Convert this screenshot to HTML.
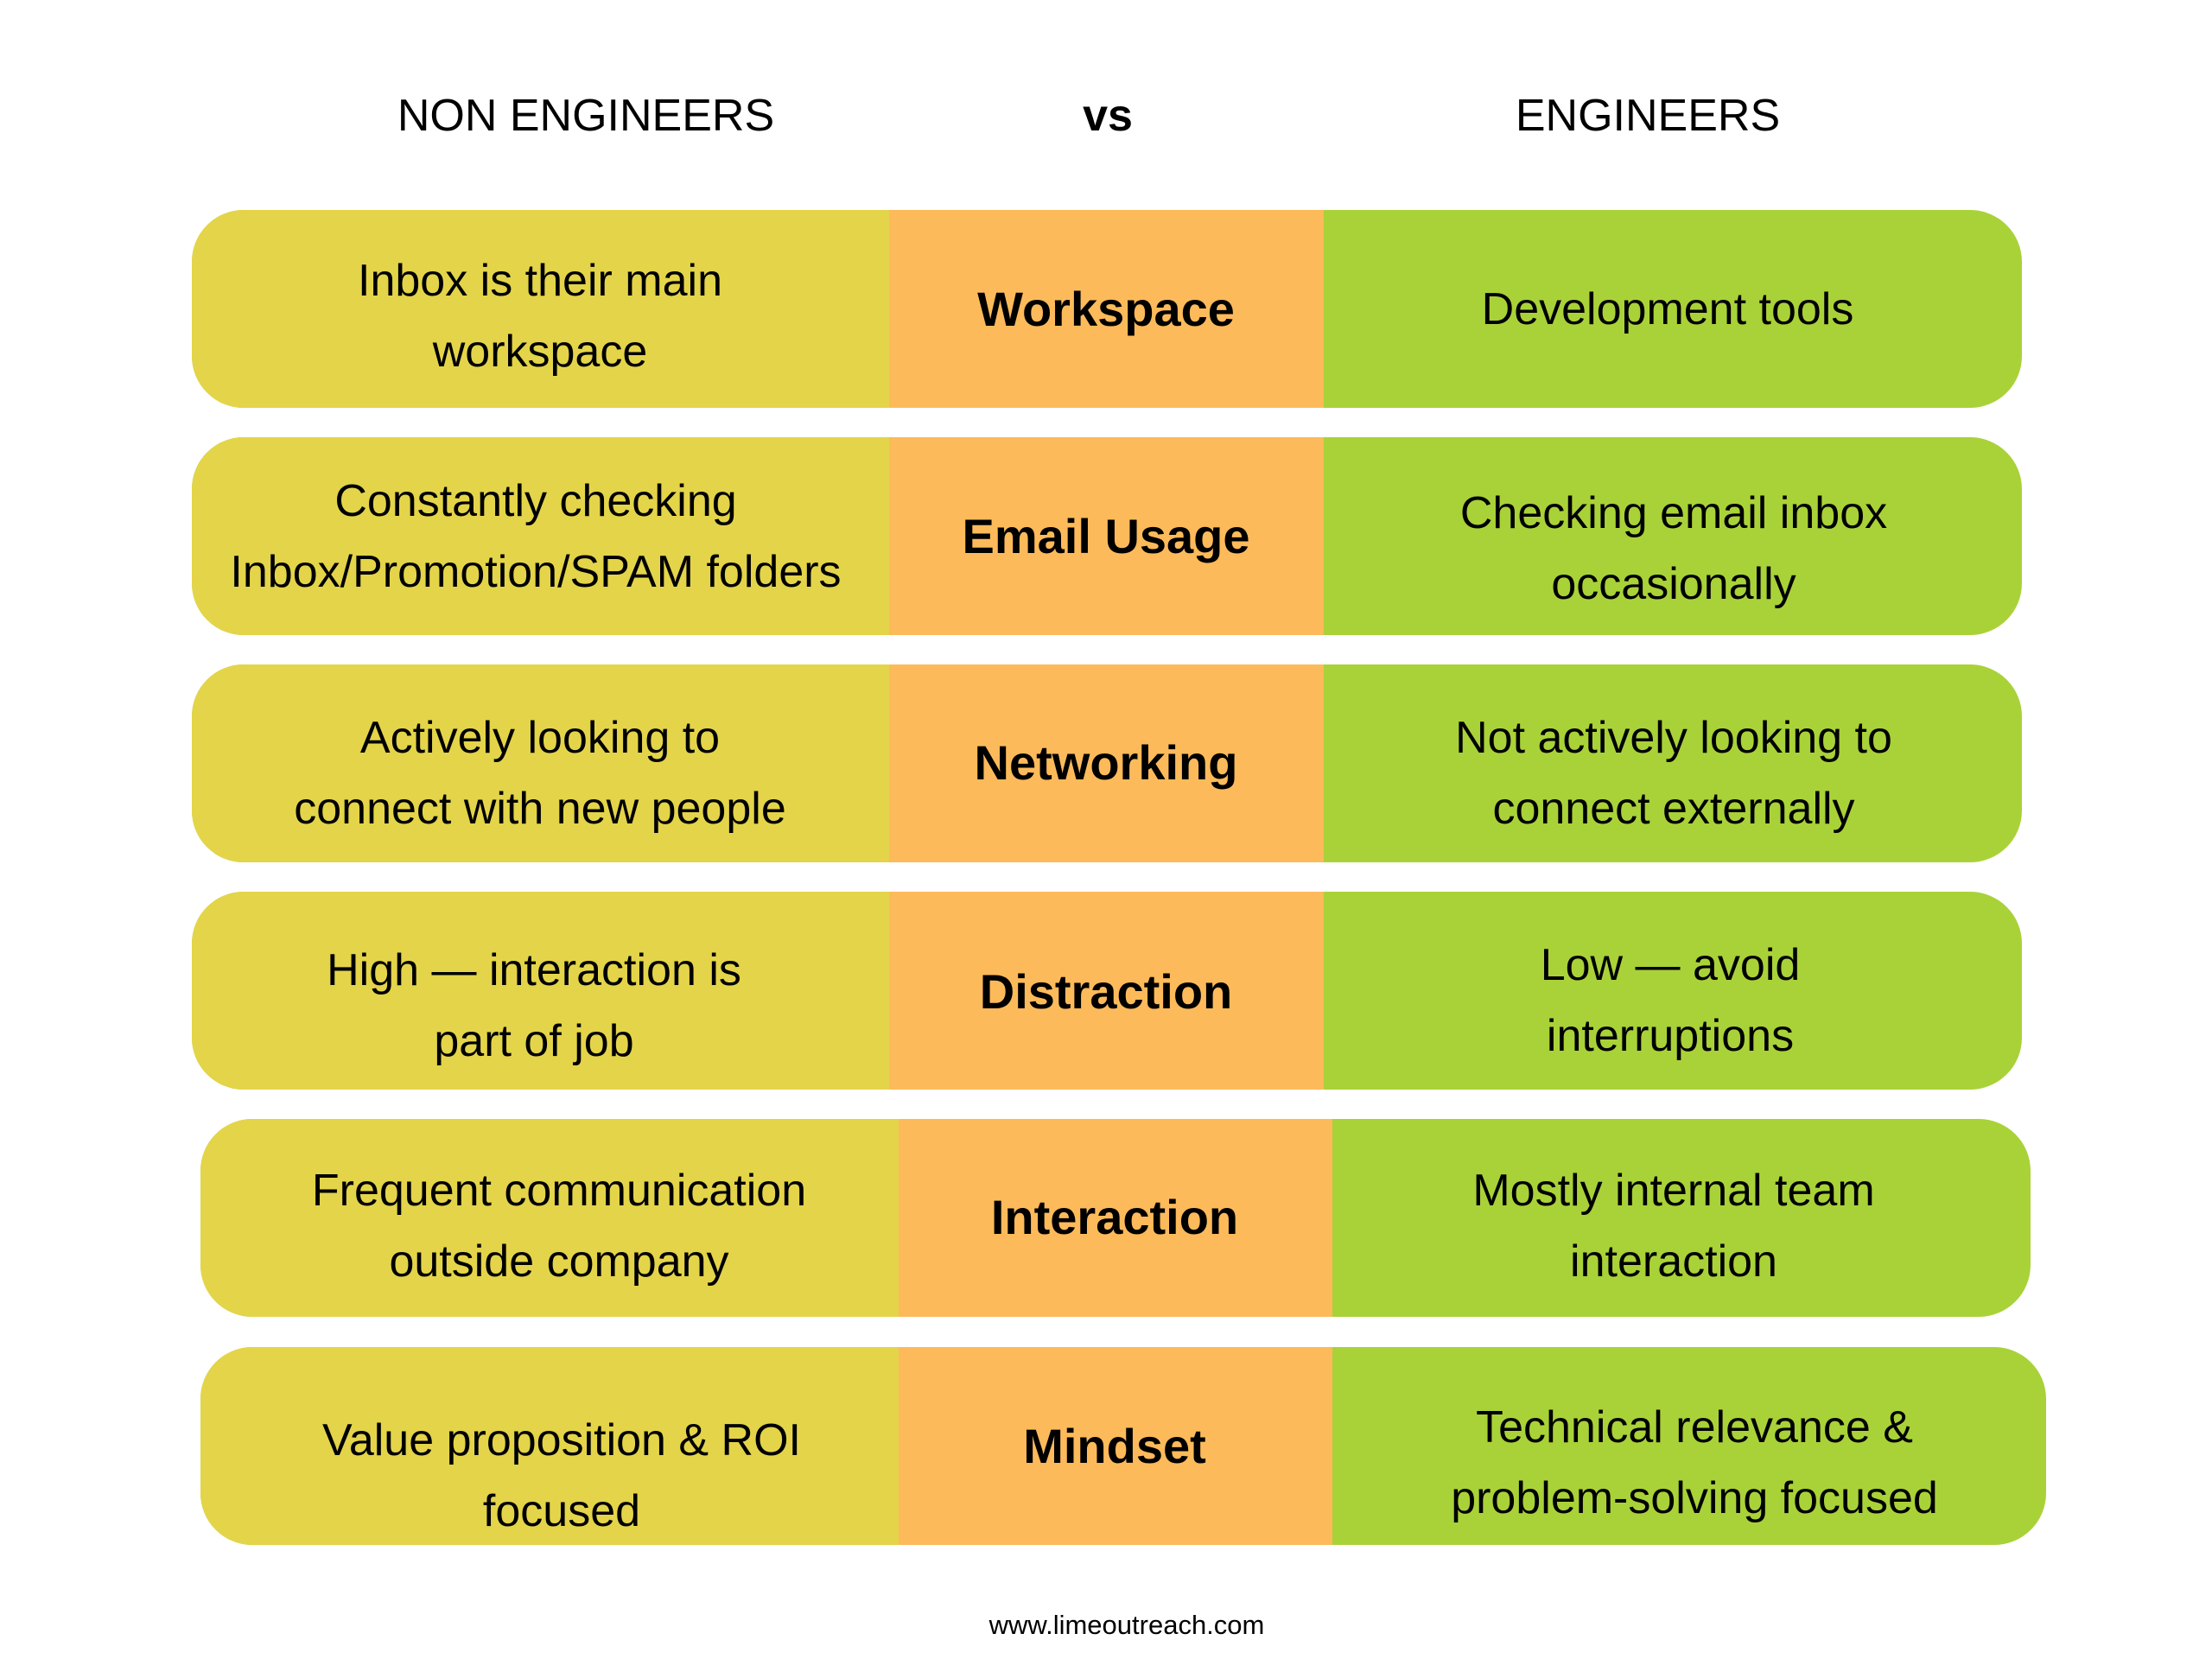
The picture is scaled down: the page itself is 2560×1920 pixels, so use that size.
<!DOCTYPE html>
<html><head><meta charset="utf-8"><style>
body{margin:0;width:2560px;height:1920px;background:#fff;position:relative;overflow:hidden;font-family:"Liberation Sans",Arial,sans-serif;color:#000}
.h{position:absolute;top:134px;transform:translate(-50%,-50%);font-size:52px;white-space:nowrap}
.row{position:absolute;height:229px;border-radius:60px;overflow:hidden;background:#A9D238}
.y{position:absolute;left:0;top:0;bottom:0;background:#E4D449}
.o{position:absolute;top:0;bottom:0;background:#FDBA5A}
.t{position:absolute;transform:translate(-50%,-50%);text-align:center;white-space:nowrap;font-size:52px;line-height:82px}
.b{font-weight:bold;font-size:56px}
</style></head><body>
<div class="h" style="left:678px">NON ENGINEERS</div>
<div class="h" style="left:1282px;font-weight:bold">vs</div>
<div class="h" style="left:1907px">ENGINEERS</div>

<div class="row" style="left:222px;top:243px;width:2118px"><div class="y" style="width:807px"></div><div class="o" style="left:807px;width:503px"></div></div>
<div class="row" style="left:222px;top:506px;width:2118px"><div class="y" style="width:807px"></div><div class="o" style="left:807px;width:503px"></div></div>
<div class="row" style="left:222px;top:769px;width:2118px"><div class="y" style="width:807px"></div><div class="o" style="left:807px;width:503px"></div></div>
<div class="row" style="left:222px;top:1032px;width:2118px"><div class="y" style="width:807px"></div><div class="o" style="left:807px;width:503px"></div></div>
<div class="row" style="left:232px;top:1295px;width:2118px"><div class="y" style="width:808px"></div><div class="o" style="left:808px;width:502px"></div></div>
<div class="row" style="left:232px;top:1559px;width:2136px"><div class="y" style="width:808px"></div><div class="o" style="left:808px;width:502px"></div></div>

<div class="t" style="left:625px;top:366px">Inbox is their main<br>workspace</div>
<div class="t b" style="left:1280px;top:358px">Workspace</div>
<div class="t" style="left:1930px;top:358px">Development tools</div>

<div class="t" style="left:620px;top:621px">Constantly checking<br>Inbox/Promotion/SPAM folders</div>
<div class="t b" style="left:1280px;top:621px">Email Usage</div>
<div class="t" style="left:1937px;top:635px">Checking email inbox<br>occasionally</div>

<div class="t" style="left:625px;top:895px">Actively looking to<br>connect with new people</div>
<div class="t b" style="left:1280px;top:883px">Networking</div>
<div class="t" style="left:1937px;top:895px">Not actively looking to<br>connect externally</div>

<div class="t" style="left:618px;top:1164px">High — interaction is<br>part of job</div>
<div class="t b" style="left:1280px;top:1148px">Distraction</div>
<div class="t" style="left:1933px;top:1158px">Low — avoid<br>interruptions</div>

<div class="t" style="left:647px;top:1419px">Frequent communication<br>outside company</div>
<div class="t b" style="left:1290px;top:1409px">Interaction</div>
<div class="t" style="left:1937px;top:1419px">Mostly internal team<br>interaction</div>

<div class="t" style="left:650px;top:1708px">Value proposition &amp; ROI<br>focused</div>
<div class="t b" style="left:1290px;top:1674px">Mindset</div>
<div class="t" style="left:1961px;top:1693px">Technical relevance &amp;<br>problem-solving focused</div>

<div class="t" style="left:1304px;top:1881px;font-size:31px;line-height:34px">www.limeoutreach.com</div>
</body></html>
